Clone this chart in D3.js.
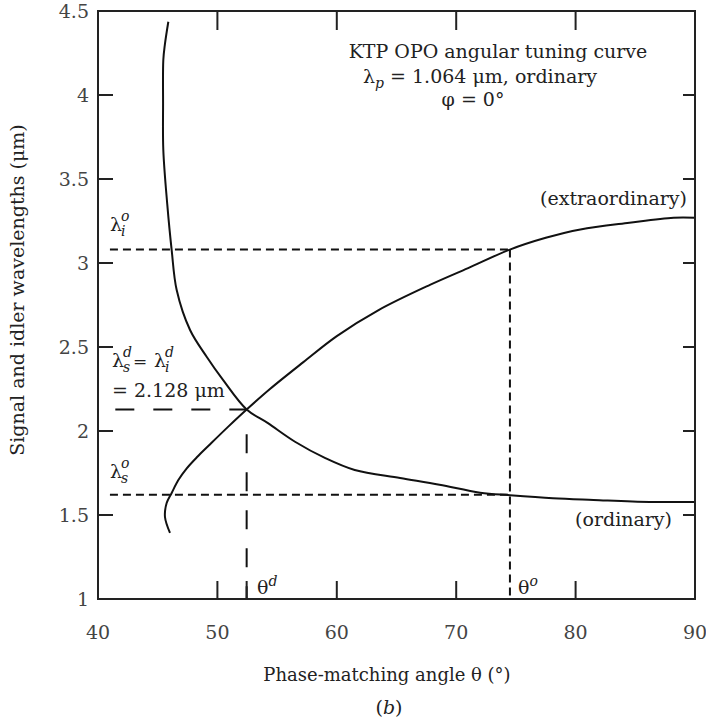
<!DOCTYPE html>
<html>
<head>
<meta charset="utf-8">
<script src="https://cdn.jsdelivr.net/npm/d3@7"></script>
<style>
  body { margin: 0; background: #fff; }
  svg text { font-family: "DejaVu Serif", "Liberation Serif", serif; fill: #222; }
</style>
</head>
<body>
<div id="chart"></div>
<script>
// values: [theta (deg), wavelength (um)]
const ordinaryCurve = [
  [45.89, 4.436], [45.6, 4.30], [45.47, 4.208], [45.45, 3.95], [45.47, 3.673],
  [45.8, 3.35], [46.17, 3.077], [46.59, 2.839], [47.71, 2.601], [49.10, 2.442],
  [50.47, 2.304], [52.45, 2.128], [54.2, 2.048], [56.5, 1.936], [59.0, 1.84],
  [61.5, 1.768], [65.3, 1.72], [68.6, 1.68], [72.0, 1.633], [74.5, 1.618],
  [78.1, 1.60], [81.5, 1.59], [86.2, 1.578], [90, 1.578]
];
const extraCurve = [
  [46.03, 1.393], [45.61, 1.488], [45.75, 1.571], [46.17, 1.631], [46.73, 1.708],
  [47.4, 1.775], [48.3, 1.845], [49.3, 1.915], [50.91, 2.026], [52.45, 2.128],
  [54.4, 2.25], [57.2, 2.41], [60.0, 2.565], [63.5, 2.72],
  [67.8, 2.87], [71.0, 2.97], [74.5, 3.08], [77.5, 3.15], [80.4, 3.20],
  [84.5, 3.24], [88.2, 3.27], [90, 3.27]
];
const xTicks = [50, 60, 70, 80];
const xTickLabels = [40, 50, 60, 70, 80, 90];
const yTicks = [1.5, 2, 2.5, 3, 3.5, 4];
const yTickLabels = [1, 1.5, 2, 2.5, 3, 3.5, 4, 4.5];

// marked points
const thetaO = 74.5, thetaD = 52.45;
const lambdaIo = 3.08, lambdaSo = 1.62, lambdaD = 2.128;

const width = 706, height = 720;
const fs = 19, fsSmall = 14;
const x = d3.scaleLinear().domain([40, 90]).range([98, 695]);
const y = d3.scaleLinear().domain([1, 4.5]).range([599, 11]);

const svg = d3.select("#chart").append("svg")
  .attr("width", width)
  .attr("height", height);

svg.append("rect").attr("width", width).attr("height", height).attr("fill", "#fff");

// dashed guide lines
const guides = svg.append("g").attr("stroke", "#111").attr("stroke-width", 2).attr("fill", "none");
guides.append("line")
  .attr("x1", x(41)).attr("x2", x(thetaO))
  .attr("y1", y(lambdaIo)).attr("y2", y(lambdaIo))
  .attr("stroke-dasharray", "8,5");
guides.append("line")
  .attr("x1", x(41)).attr("x2", x(thetaO))
  .attr("y1", y(lambdaSo)).attr("y2", y(lambdaSo))
  .attr("stroke-dasharray", "8,5");
guides.append("line")
  .attr("x1", x(thetaO)).attr("x2", x(thetaO))
  .attr("y1", y(lambdaIo)).attr("y2", y(1))
  .attr("stroke-dasharray", "8,5");
guides.append("line")
  .attr("x1", x(41.45)).attr("x2", x(thetaD))
  .attr("y1", y(lambdaD)).attr("y2", y(lambdaD))
  .attr("stroke-dasharray", "19,19");
guides.append("line")
  .attr("x1", x(thetaD)).attr("x2", x(thetaD))
  .attr("y1", y(1.98)).attr("y2", y(1))
  .attr("stroke-dasharray", "19,19");

// curves
const line = d3.line()
  .x(d => x(d[0]))
  .y(d => y(d[1]))
  .curve(d3.curveCatmullRom);

svg.append("g")
  .attr("fill", "none")
  .attr("stroke", "#111")
  .attr("stroke-width", 2)
  .selectAll("path")
  .data([ordinaryCurve, extraCurve])
  .join("path")
  .attr("d", line);

// frame and ticks
const frame = svg.append("g").attr("stroke", "#222").attr("stroke-width", 2);
frame.append("rect")
  .attr("x", x(40)).attr("y", y(4.5))
  .attr("width", x(90) - x(40)).attr("height", y(1) - y(4.5))
  .attr("fill", "none");

frame.selectAll(".xb").data(xTicks.concat([thetaD])).join("line")
  .attr("x1", d => x(d)).attr("x2", d => x(d))
  .attr("y1", y(1)).attr("y2", y(1) - 18);
frame.selectAll(".xt").data(xTicks).join("line")
  .attr("x1", d => x(d)).attr("x2", d => x(d))
  .attr("y1", y(4.5)).attr("y2", y(4.5) + 19);
frame.selectAll(".yl").data(yTicks).join("line")
  .attr("x1", x(40)).attr("x2", x(40) + 15)
  .attr("y1", d => y(d)).attr("y2", d => y(d));
frame.selectAll(".yr").data(yTicks).join("line")
  .attr("x1", x(90)).attr("x2", x(90) - 12)
  .attr("y1", d => y(d)).attr("y2", d => y(d));

// tick labels
svg.append("g").attr("font-size", fs).attr("text-anchor", "middle")
  .selectAll("text").data(xTickLabels).join("text")
  .attr("x", d => x(d)).attr("y", 639)
  .style("fill", "#444")
  .text(d => d);
svg.append("g").attr("font-size", fs).attr("text-anchor", "end")
  .selectAll("text").data(yTickLabels).join("text")
  .attr("x", 89).attr("y", d => y(d) + 7)
  .style("fill", "#444")
  .text(d => d);

// axis titles
svg.append("text")
  .attr("x", 387).attr("y", 681)
  .attr("text-anchor", "middle").attr("font-size", 18)
  .text("Phase-matching angle θ (°)");
svg.append("text")
  .attr("x", 389).attr("y", 714)
  .attr("text-anchor", "middle").attr("font-size", fs)
  .html('(<tspan font-style="italic">b</tspan>)');
svg.append("text")
  .attr("transform", "translate(24,290) rotate(-90)")
  .attr("text-anchor", "middle").attr("font-size", fs)
  .text("Signal and idler wavelengths (μm)");

// annotation block
const note = svg.append("g").attr("font-size", fs);
note.append("text").attr("x", 498).attr("y", 58).attr("text-anchor", "middle")
  .text("KTP OPO angular tuning curve");
note.append("text").attr("x", 363).attr("y", 83)
  .html('λ<tspan font-style="italic" font-size="' + fsSmall + '" dy="5">p</tspan><tspan dy="-5"> = 1.064 μm, ordinary</tspan>');
note.append("text").attr("x", 473).attr("y", 106).attr("text-anchor", "middle")
  .text("φ = 0°");

svg.append("text").attr("x", 687).attr("y", 205).attr("text-anchor", "end").attr("font-size", fs)
  .text("(extraordinary)");
svg.append("text").attr("x", 672).attr("y", 526).attr("text-anchor", "end").attr("font-size", fs)
  .text("(ordinary)");

// lambda labels with stacked sub/superscripts
function lambdaLabel(px, py, sub, sup) {
  const g = svg.append("g").attr("font-size", fs);
  g.append("text").attr("x", px).attr("y", py).text("λ");
  g.append("text").attr("x", px + 11).attr("y", py + 5)
    .attr("font-size", fsSmall).attr("font-style", "italic").text(sub);
  g.append("text").attr("x", px + 11).attr("y", py - 10)
    .attr("font-size", fsSmall).attr("font-style", "italic").text(sup);
}
lambdaLabel(110, 231, "i", "o");
lambdaLabel(110, 478, "s", "o");
lambdaLabel(112, 367, "s", "d");
svg.append("text").attr("x", 133).attr("y", 367).attr("font-size", 17).text("=");
lambdaLabel(154, 367, "i", "d");
svg.append("text").attr("x", 112).attr("y", 397).attr("font-size", fs).text("= 2.128 μm");

svg.append("text").attr("x", 257).attr("y", 594).attr("font-size", fs)
  .html('θ<tspan font-style="italic" font-size="' + fsSmall + '" dy="-8">d</tspan>');
svg.append("text").attr("x", 518).attr("y", 594).attr("font-size", fs)
  .html('θ<tspan font-style="italic" font-size="' + fsSmall + '" dy="-8">o</tspan>');
</script>
</body>
</html>
